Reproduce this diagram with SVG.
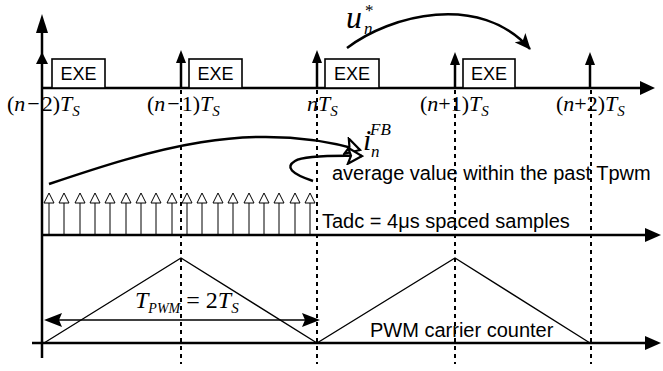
<svg xmlns="http://www.w3.org/2000/svg" xmlns:xlink="http://www.w3.org/1999/xlink" width="663" height="371" viewBox="0 0 663 371">
<style>
.ax{stroke:#000;stroke-width:2.5;fill:none}
.th{stroke:#000;stroke-width:1.5;fill:none}
.dot{stroke:#000;stroke-width:2;stroke-dasharray:4 4;fill:none}
.box{stroke:#000;stroke-width:1.6;fill:#fff}
.sans{font-family:"Liberation Sans",Arial,sans-serif;fill:#000}
.ser{font-family:"Liberation Serif","Times New Roman",serif;fill:#000}
.it{font-style:italic}
</style>
<defs>
<marker id="ahb" viewBox="0 0 16 14" refX="15" refY="7" markerWidth="16" markerHeight="14" markerUnits="userSpaceOnUse" orient="auto">
<path d="M0,0 L16,7 L0,14 L4,7 Z" fill="#000"/>
</marker>
<marker id="aho" viewBox="-1 -1 18 18" refX="15" refY="8" markerWidth="18" markerHeight="18" markerUnits="userSpaceOnUse" orient="auto">
<path d="M1,0 L15,8 L1,16 L4,8 Z" fill="#fff" stroke="#000" stroke-width="2.2" stroke-linejoin="miter"/>
</marker>
<g id="samp">
<line x1="0" y1="235" x2="0" y2="203" stroke="#000" stroke-width="1"/>
<path d="M-5,203 L0,193 L5,203 Z" fill="#fff" stroke="#000" stroke-width="1"/>
</g>
<path id="tick" d="M-5,63 L0,50 L5,63 Z" fill="#000"/>
</defs>

<g id="connectors">
<line class="ax" x1="42" y1="358" x2="42" y2="30"/>
<path d="M36,33 L42,14 L48,33 Z"/>
<path d="M36,64 L42,52 L48,64 Z"/>
<line class="ax" x1="42" y1="88" x2="643" y2="88"/>
<path d="M640,81 L655,88 L640,95 Z"/>
<line class="ax" x1="42" y1="235" x2="648" y2="235"/>
<path d="M645,228 L661,235 L645,242 Z"/>
<line class="ax" x1="32" y1="343" x2="648" y2="343"/>
<path d="M645,336 L661,343 L645,350 Z"/>
<line class="dot" x1="181" y1="90" x2="181" y2="364"/>
<line class="dot" x1="317" y1="90" x2="317" y2="364"/>
<line class="dot" x1="455" y1="90" x2="455" y2="364"/>
<line class="dot" x1="591" y1="90" x2="591" y2="364"/>
<line class="ax" x1="181" y1="88" x2="181" y2="60"/>
<use href="#tick" xlink:href="#tick" x="181"/>
<line class="ax" x1="317" y1="88" x2="317" y2="60"/>
<use href="#tick" xlink:href="#tick" x="317"/>
<line class="ax" x1="455" y1="88" x2="455" y2="62"/>
<use href="#tick" xlink:href="#tick" x="455" y="2"/>
<line class="ax" x1="590" y1="88" x2="590" y2="62"/>
<use href="#tick" xlink:href="#tick" x="590" y="2"/>
<path d="M347,48 C390,15 480,-8 530,49" stroke="#000" stroke-width="2.5" fill="none" marker-end="url(#ahb)"/>
<path d="M49,184 C150,150 250,118 360,150" stroke="#000" stroke-width="2.5" fill="none" marker-end="url(#aho)"/>
<path d="M313,181 Q280,170 295,161 Q305,155 362,156" stroke="#000" stroke-width="2.5" fill="none" marker-end="url(#aho)"/>
<use href="#samp" xlink:href="#samp" x="49"/>
<use href="#samp" xlink:href="#samp" x="64"/>
<use href="#samp" xlink:href="#samp" x="80"/>
<use href="#samp" xlink:href="#samp" x="95"/>
<use href="#samp" xlink:href="#samp" x="110"/>
<use href="#samp" xlink:href="#samp" x="126"/>
<use href="#samp" xlink:href="#samp" x="141"/>
<use href="#samp" xlink:href="#samp" x="156"/>
<use href="#samp" xlink:href="#samp" x="172"/>
<use href="#samp" xlink:href="#samp" x="187"/>
<use href="#samp" xlink:href="#samp" x="202"/>
<use href="#samp" xlink:href="#samp" x="218"/>
<use href="#samp" xlink:href="#samp" x="233"/>
<use href="#samp" xlink:href="#samp" x="249"/>
<use href="#samp" xlink:href="#samp" x="264"/>
<use href="#samp" xlink:href="#samp" x="279"/>
<use href="#samp" xlink:href="#samp" x="295"/>
<use href="#samp" xlink:href="#samp" x="310"/>
<polyline points="44,343 181,258 317,343 455,258 590,343" stroke="#000" stroke-width="1.3" fill="none"/>
<line x1="55" y1="320" x2="308" y2="320" stroke="#000" stroke-width="1.5"/>
<path d="M44,320 L62,313 L59,320 L62,327 Z"/>
<path d="M320,320 L302,313 L305,320 L302,327 Z"/>
</g>

<g id="exe1"><rect class="box" x="52" y="59" width="53" height="29"/><text class="sans" x="78.5" y="80" font-size="18" text-anchor="middle">EXE</text></g>
<g id="exe2"><rect class="box" x="189" y="59" width="53" height="29"/><text class="sans" x="215.5" y="80" font-size="18" text-anchor="middle">EXE</text></g>
<g id="exe3"><rect class="box" x="325" y="59" width="54" height="29"/><text class="sans" x="352" y="80" font-size="18" text-anchor="middle">EXE</text></g>
<g id="exe4"><rect class="box" x="463" y="59" width="52" height="29"/><text class="sans" x="489" y="80" font-size="18" text-anchor="middle">EXE</text></g>

<g id="lbl-n2" class="ser" font-size="22"><text x="7" y="111">(<tspan class="it">n</tspan><tspan dx="2">−</tspan><tspan dx="2">2)</tspan><tspan class="it">T</tspan><tspan class="it" font-size="15" dy="5">S</tspan></text></g>
<g id="lbl-n1" class="ser" font-size="22"><text x="147" y="111">(<tspan class="it">n</tspan><tspan dx="2">−</tspan><tspan dx="2">1)</tspan><tspan class="it">T</tspan><tspan class="it" font-size="15" dy="5">S</tspan></text></g>
<g id="lbl-n" class="ser" font-size="22"><text x="307" y="111"><tspan class="it">nT</tspan><tspan class="it" font-size="15" dy="5">S</tspan></text></g>
<g id="lbl-p1" class="ser" font-size="22"><text x="420" y="111">(<tspan class="it">n</tspan>+1)<tspan class="it">T</tspan><tspan class="it" font-size="15" dy="5">S</tspan></text></g>
<g id="lbl-p2" class="ser" font-size="22"><text x="556" y="111">(<tspan class="it">n</tspan>+2)<tspan class="it">T</tspan><tspan class="it" font-size="15" dy="5">S</tspan></text></g>

<g id="lbl-u" class="ser it">
<text x="346" y="28" font-size="32">u</text>
<text x="364" y="34" font-size="17">n</text>
<text x="365" y="16" font-size="17" font-style="normal">*</text>
</g>
<g id="lbl-i" class="ser it">
<text x="363" y="150" font-size="30">i</text>
<text x="370" y="135" font-size="17">FB</text>
<text x="371" y="157" font-size="17">n</text>
</g>

<g id="lbl-avg"><text class="sans" x="332" y="180" font-size="20">average value within the past Tpwm</text></g>
<g id="lbl-tadc"><text class="sans" x="322" y="228" font-size="20">Tadc = 4μs spaced samples</text></g>
<g id="lbl-pwm"><text class="sans" x="370" y="337" font-size="20">PWM carrier counter</text></g>
<g id="lbl-tpwm" class="ser">
<text x="135" y="308" font-size="24"><tspan class="it">T</tspan><tspan class="it" font-size="14" dy="5">PWM</tspan><tspan dy="-5"> = 2</tspan><tspan class="it">T</tspan><tspan class="it" font-size="15" dy="5">S</tspan></text>
</g>
</svg>
